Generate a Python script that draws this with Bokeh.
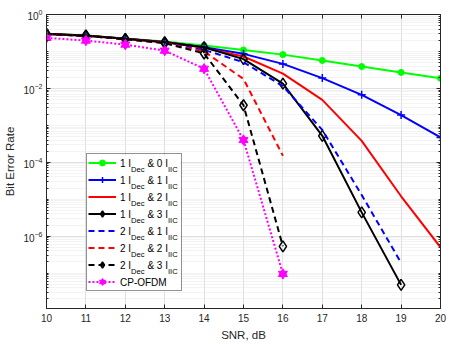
from bokeh.plotting import figure
from bokeh.models import (Range1d, LogAxis, LinearAxis, FixedTicker, Legend, LegendItem,
                          Label, CustomJSTickFormatter, BoxAnnotation)
from bokeh.embed import file_html
from bokeh.resources import INLINE

# ---------------- data ----------------
snr = [10, 11, 12, 13, 14, 15, 16, 17, 18, 19, 20]
snr_to19 = [10, 11, 12, 13, 14, 15, 16, 17, 18, 19]
snr_to16 = [10, 11, 12, 13, 14, 15, 16]

ber_1dec_0iic = [0.30, 0.27, 0.225, 0.185, 0.145, 0.11, 0.082, 0.057, 0.039, 0.027, 0.0187]
ber_1dec_1iic = [0.295, 0.265, 0.22, 0.18, 0.13, 0.086, 0.046, 0.019, 0.0067, 0.0019, 4.7e-4]
ber_1dec_2iic = [0.295, 0.265, 0.22, 0.18, 0.125, 0.073, 0.025, 0.0049, 3.8e-4, 1.2e-5, 5e-7]
ber_1dec_3iic = [0.30, 0.27, 0.22, 0.178, 0.13, 0.062, 0.0135, 5.2e-4, 4.4e-6, 4.8e-8]
ber_2dec_1iic = [0.295, 0.265, 0.215, 0.172, 0.11, 0.051, 0.0115, 7.5e-4, 1.3e-5, 1.9e-7]
ber_2dec_2iic = [0.295, 0.265, 0.215, 0.17, 0.10, 0.018, 1.5e-4]
ber_2dec_3iic = [0.295, 0.265, 0.215, 0.168, 0.088, 0.0035, 5.3e-7]
ber_cp_ofdm = [0.233, 0.197, 0.153, 0.105, 0.034, 4.0e-4, 9.5e-8]

x_ticks = [10, 11, 12, 13, 14, 15, 16, 17, 18, 19, 20]
y_ticks = [1.0, 1e-2, 1e-4, 1e-6]

legend_rows = [
    [("1 I", 0), ("Dec", 1), ("& 0 I", 0), ("IIC", 1)],
    [("1 I", 0), ("Dec", 1), ("& 1 I", 0), ("IIC", 1)],
    [("1 I", 0), ("Dec", 1), ("& 2 I", 0), ("IIC", 1)],
    [("1 I", 0), ("Dec", 1), ("& 3 I", 0), ("IIC", 1)],
    [("2 I", 0), ("Dec", 1), ("& 1 I", 0), ("IIC", 1)],
    [("2 I", 0), ("Dec", 1), ("& 2 I", 0), ("IIC", 1)],
    [("2 I", 0), ("Dec", 1), ("& 3 I", 0), ("IIC", 1)],
    [("CP-OFDM", 0)],
]

# ---------------- figure ----------------
AX = "#262626"
FONT = "Liberation Sans"

p = figure(width=457, height=344, y_axis_type="log",
           x_range=Range1d(10, 20), y_range=Range1d(1.1e-8, 1.0),
           output_backend="svg", toolbar_location=None,
           min_border_left=46, min_border_right=17, min_border_top=14, min_border_bottom=36,
           background_fill_color="white", border_fill_color="white")
p.outline_line_color = AX
p.outline_line_width = 1

minor_y = []
for e in range(-8, 0):
    for k in range(1, 10):
        v = k * 10.0 ** e
        if v not in y_ticks and v >= 1.1e-8:
            minor_y.append(v)

p.xaxis.ticker = FixedTicker(ticks=x_ticks, minor_ticks=[])
p.yaxis.ticker = FixedTicker(ticks=y_ticks, minor_ticks=minor_y)

for ax in [p.xaxis[0], p.yaxis[0]]:
    ax.axis_line_color = AX
    ax.major_tick_line_color = AX
    ax.minor_tick_line_color = AX
    ax.major_tick_in = 4
    ax.major_tick_out = 0
    ax.minor_tick_in = 2
    ax.minor_tick_out = 0
    ax.major_label_text_color = AX
    ax.major_label_text_font = FONT
    ax.major_label_text_font_size = "10px"
    ax.axis_label_text_font = FONT
    ax.axis_label_text_font_size = "11.5px"
    ax.axis_label_text_font_style = "normal"
    ax.axis_label_text_color = AX

p.xaxis.axis_label = "SNR, dB"
p.xaxis.major_label_standoff = 5
p.xaxis.axis_label_standoff = 4
p.yaxis.axis_label = "Bit Error Rate"
p.yaxis.major_label_standoff = 4
p.yaxis.axis_label_standoff = 4

empty = CustomJSTickFormatter(code="return ''")
top_ax = LinearAxis(ticker=FixedTicker(ticks=x_ticks, minor_ticks=[]), formatter=empty,
                    major_tick_in=4, major_tick_out=0, minor_tick_in=0, minor_tick_out=0,
                    major_label_standoff=0, axis_line_color=AX, major_tick_line_color=AX)
right_ax = LogAxis(ticker=FixedTicker(ticks=y_ticks, minor_ticks=minor_y), formatter=empty,
                   major_tick_in=4, major_tick_out=0, minor_tick_in=2, minor_tick_out=0,
                   major_label_standoff=0, axis_line_color=AX, major_tick_line_color=AX,
                   minor_tick_line_color=AX)
p.add_layout(top_ax, "above")
p.add_layout(right_ax, "right")

p.xgrid.grid_line_color = "#e0e0e0"
p.ygrid.grid_line_color = "#e0e0e0"
p.ygrid.minor_grid_line_color = "#e6e6e6"
p.ygrid.minor_grid_line_dash = "1 1"

# white backing for the legend (hides grid lines)
LEG_L, LEG_B, LEG_W, LEG_H = 40, 17, 94, 136
p.add_layout(BoxAnnotation(left=LEG_L, right=LEG_L + LEG_W, bottom=LEG_B, top=LEG_B + LEG_H,
                           left_units="screen", right_units="screen",
                           bottom_units="screen", top_units="screen",
                           fill_color="white", fill_alpha=1.0, line_alpha=0,
                           level="underlay"))

# ---------------- series ----------------
LW = 2
items = []

r1 = p.line(snr, ber_1dec_0iic, line_color="#00ff00", line_width=LW)
m1 = p.scatter(snr, ber_1dec_0iic, marker="circle", size=6, fill_color="#00ff00", line_color="#00ff00")
items.append([r1, m1])

r2 = p.line(snr, ber_1dec_1iic, line_color="#0000ff", line_width=LW)
m2 = p.scatter(snr, ber_1dec_1iic, marker="cross", size=8, line_color="#0000ff", line_width=1.5)
items.append([r2, m2])

r3 = p.line(snr, ber_1dec_2iic, line_color="#ff0000", line_width=LW)
items.append([r3])

r4 = p.line(snr_to19, ber_1dec_3iic, line_color="#000000", line_width=LW)
m4 = p.scatter(snr_to19, ber_1dec_3iic, marker="diamond", size=11, line_color="#000000",
               fill_alpha=0, line_width=1.5)
items.append([r4, m4])

r5 = p.line(snr_to19, ber_2dec_1iic, line_color="#0000ff", line_width=LW, line_dash="6 4")
items.append([r5])

r6 = p.line(snr_to16, ber_2dec_2iic, line_color="#ff0000", line_width=LW, line_dash="6 4")
items.append([r6])

r7 = p.line(snr_to16, ber_2dec_3iic, line_color="#000000", line_width=LW, line_dash="6 4")
m7 = p.scatter(snr_to16, ber_2dec_3iic, marker="diamond", size=11, line_color="#000000",
               fill_alpha=0, line_width=1.5)
items.append([r7, m7])

r8 = p.line(snr_to16, ber_cp_ofdm, line_color="#ff00ff", line_width=LW, line_dash="2 2")
m8a = p.scatter(snr_to16, ber_cp_ofdm, marker="triangle", size=9, fill_color="#ff00ff",
                line_color="#ff00ff")
m8b = p.scatter(snr_to16, ber_cp_ofdm, marker="inverted_triangle", size=9, fill_color="#ff00ff",
                line_color="#ff00ff")
items.append([r8, m8a, m8b])

# ---------------- legend (glyphs via Legend, texts via Labels) ----------------
legend = Legend(items=[LegendItem(label=" ", renderers=rs) for rs in items],
                location=(LEG_L, LEG_B), orientation="vertical",
                glyph_width=28, glyph_height=15, label_height=15, label_width=61,
                label_standoff=3, spacing=2, padding=1, margin=0,
                label_text_font_size="9.5px",
                border_line_color=AX, border_line_width=1,
                background_fill_alpha=0.0)
p.add_layout(legend, "center")

W = {'0': 556, '1': 556, '2': 556, '3': 556, ' ': 278, '&': 667, 'I': 278, 'D': 722,
     'e': 556, 'c': 500, 'C': 722, 'P': 667, '-': 333, 'O': 778, 'F': 611, 'M': 833}


def tw(s, size):
    return sum(W.get(ch, 556) for ch in s) * size / 1000.0


MAIN, SUB = 10.0, 7.6
x0 = 73.5
row_top = LEG_B + LEG_H - 1 - 7.5   # centre of first legend row
for k, row in enumerate(legend_rows):
    yc = row_top - 17 * k
    x = x0
    for j, (txt, is_sub) in enumerate(row):
        if j > 0 and not is_sub:
            x += tw(" ", MAIN)
        size = SUB if is_sub else MAIN
        p.add_layout(Label(x=x, y=yc + (-5 if is_sub else 1), x_units="screen", y_units="screen",
                           text=txt, text_font=FONT, text_font_size=f"{size}px",
                           text_baseline="middle", text_align="left", text_color="#000000",
                           level="overlay"))
        x += tw(txt, size)

open("out.html", "w").write(file_html(p, INLINE))
